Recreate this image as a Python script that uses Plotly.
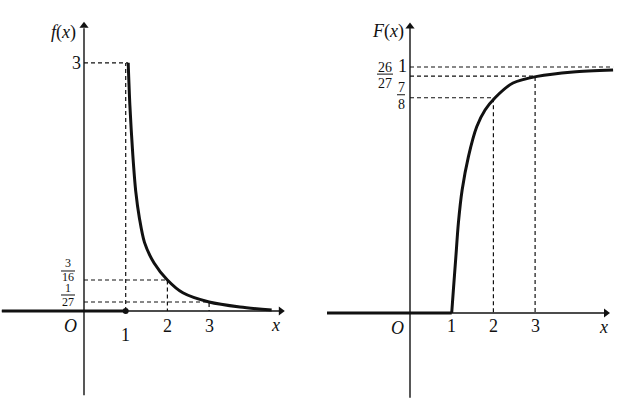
import plotly.graph_objects as go

# ---------------- data ----------------
# left panel: density f(x); y in the picture's (schematic) vertical units
f_x = [1.06, 1.10, 1.17, 1.24, 1.33, 1.45, 1.68, 2.0, 2.37, 3.0, 3.74, 4.5]
f_y = [3.0, 2.49, 1.89, 1.45, 1.12, 0.83, 0.58, 0.375, 0.22, 0.109, 0.048, 0.012]
f_ytick_vals = [3.0, 0.375, 0.109]          # positions of 3, 3/16, 1/27
f_ytick_num = ["3", "3", "1"]
f_ytick_den = [None, "16", "27"]
f_xtick_vals = [1, 2, 3]
f_xtick_text = ["1", "2", "3"]

# right panel: distribution F(x)
F_x = [1.0, 1.04, 1.10, 1.16, 1.25, 1.40, 1.60, 1.80, 2.04, 2.47, 3.05, 3.91, 4.87]
F_y = [0.0, 0.093, 0.229, 0.365, 0.50, 0.635, 0.757, 0.825, 0.875, 0.935, 0.962, 0.98, 0.988]
F_ytick_vals = [1.0, 26 / 27, 7 / 8]
F_ytick_num = ["1", "26", "7"]
F_ytick_den = [None, "27", "8"]
F_xtick_vals = [1, 2, 3]
F_xtick_text = ["1", "2", "3"]

FONT = "Liberation Serif"
BLACK = "#111111"
DASH = "4px,3px"
BIG = 18
SMALL = 14

fig = go.Figure()


def line(x, y, xa, ya, width=1.2, dash=None, shape="linear"):
    fig.add_trace(go.Scatter(x=x, y=y, xaxis=xa, yaxis=ya, mode="lines",
                             line=dict(color=BLACK, width=width, dash=dash, shape=shape,
                                       smoothing=0.8),
                             hoverinfo="skip", showlegend=False))


def text(s, x, y, xa, ya, size=BIG, xs=0, ys=0, italic=False):
    if italic:
        s = "<i>" + s + "</i>"
    fig.add_annotation(x=x, y=y, xref=xa, yref=ya, text=s, showarrow=False,
                       xshift=xs, yshift=ys, borderpad=0,
                       font=dict(family=FONT, size=size, color=BLACK))


def arrow(x, y, xa, ya, symbol):
    fig.add_trace(go.Scatter(x=[x], y=[y], xaxis=xa, yaxis=ya, mode="markers",
                             marker=dict(symbol=symbol, size=8, color=BLACK),
                             hoverinfo="skip", showlegend=False))


def frac_bar(y, xa, ya, x0, x1, dy):
    fig.add_shape(type="line", xref=xa, yref=ya, xsizemode="pixel", ysizemode="pixel",
                  xanchor=0, yanchor=y, x0=x0, x1=x1, y0=dy, y1=dy,
                  line=dict(color=BLACK, width=1))


# ---------------- left panel ----------------
xa, ya = "x", "y"
line([-1.97, 4.7], [0, 0], xa, ya, width=1.6)
line([-1.97, 1.0], [0, 0], xa, ya, width=3)
arrow(4.72, 0, xa, ya, "triangle-right")
line([0, 0], [-1.02, 3.42], xa, ya, width=1.4)
arrow(0, 3.45, xa, ya, "triangle-up")
# dashed guides
line([0, f_x[0]], [f_y[0], f_y[0]], xa, ya, dash=DASH)
line([1, 1], [0, f_y[0]], xa, ya, dash=DASH)
line([0, 2, 2], [f_ytick_vals[1], f_ytick_vals[1], 0], xa, ya, dash=DASH)
line([0, 3, 3], [f_ytick_vals[2], f_ytick_vals[2], 0], xa, ya, dash=DASH)
# curve
line(f_x, f_y, xa, ya, width=3, shape="spline")
fig.add_trace(go.Scatter(x=[1], y=[0], xaxis=xa, yaxis=ya, mode="markers",
                         marker=dict(size=6, color=BLACK), hoverinfo="skip", showlegend=False))
# labels
text("f</i>(<i>x</i>)", 0, 3.49, xa, ya, xs=-21, ys=-10, italic=True)
text(f_ytick_num[0], 0, f_ytick_vals[0], xa, ya, xs=-8)
f_frac_offsets = [(17, 9, 3), (14, 7, 0)]   # numerator, bar, denominator shifts (px)
for v, n, d, (dn, db, dd) in zip(f_ytick_vals[1:], f_ytick_num[1:], f_ytick_den[1:], f_frac_offsets):
    text(n, 0, v, xa, ya, size=12, xs=-16, ys=dn)
    frac_bar(v, xa, ya, -23, -9, db)
    text(d, 0, v, xa, ya, size=12, xs=-16, ys=dd)
text("O", 0, 0, xa, ya, xs=-14, ys=-15, italic=True)
for v, t in zip(f_xtick_vals, f_xtick_text):
    text(t, v, 0, xa, ya, ys=-24 if v == 1 else -15)
text("x", 4.6, 0, xa, ya, ys=-14, italic=True)

# ---------------- right panel ----------------
xa, ya = "x2", "y2"
line([-1.99, 4.68], [0, 0], xa, ya, width=1.6)
line([-1.99, 1.0], [0, 0], xa, ya, width=3)
arrow(4.70, 0, xa, ya, "triangle-right")
line([0, 0], [-0.345, 1.16], xa, ya, width=1.4)
arrow(0, 1.165, xa, ya, "triangle-up")
line([0, 4.87], [1, 1], xa, ya, dash=DASH)
line([0, 3, 3], [F_ytick_vals[1], F_ytick_vals[1], 0], xa, ya, dash=DASH)
line([0, 2, 2], [F_ytick_vals[2], F_ytick_vals[2], 0], xa, ya, dash=DASH)
line(F_x, F_y, xa, ya, width=3, shape="spline")
text("F</i>(<i>x</i>)", 0, 1.171, xa, ya, xs=-22, ys=-7, italic=True)
text(F_ytick_num[0], 0, F_ytick_vals[0], xa, ya, xs=-8, ys=1)
text(F_ytick_num[1], 0, F_ytick_vals[1], xa, ya, size=SMALL, xs=-25, ys=9)
frac_bar(F_ytick_vals[1], xa, ya, -33, -17, 2)
text(F_ytick_den[1], 0, F_ytick_vals[1], xa, ya, size=SMALL, xs=-25, ys=-7)
text(F_ytick_num[2], 0, F_ytick_vals[2], xa, ya, size=SMALL, xs=-9, ys=10)
frac_bar(F_ytick_vals[2], xa, ya, -13, -5, 3)
text(F_ytick_den[2], 0, F_ytick_vals[2], xa, ya, size=SMALL, xs=-9, ys=-7)
text("O", 0, 0, xa, ya, xs=-13, ys=-15, italic=True)
for v, t in zip(F_xtick_vals, F_xtick_text):
    text(t, v, 0, xa, ya, ys=-13)
text("x", 4.63, 0, xa, ya, ys=-14, italic=True)

ax_common = dict(visible=False, showgrid=False, zeroline=False, fixedrange=True)
fig.update_layout(
    width=641, height=413,
    margin=dict(l=0, r=0, t=0, b=0),
    paper_bgcolor="white", plot_bgcolor="white",
    showlegend=False,
    xaxis=dict(domain=[0, 0.5], range=[-84 / 41.7, (320.5 - 84) / 41.7], anchor="y", **ax_common),
    yaxis=dict(domain=[0, 1], range=[(311 - 413) / 82.7, 311 / 82.7], anchor="x", **ax_common),
    xaxis2=dict(domain=[0.5, 1], range=[(320.5 - 410) / 41.7, (641 - 410) / 41.7], anchor="y2", **ax_common),
    yaxis2=dict(domain=[0, 1], range=[(313 - 413) / 246, 313 / 246], anchor="x2", **ax_common),
)

fig.write_html("out.html", config={"displayModeBar": False},
               post_script="document.body.style.margin='0';document.body.style.padding='0';"
                           "document.body.style.overflow='hidden';")
